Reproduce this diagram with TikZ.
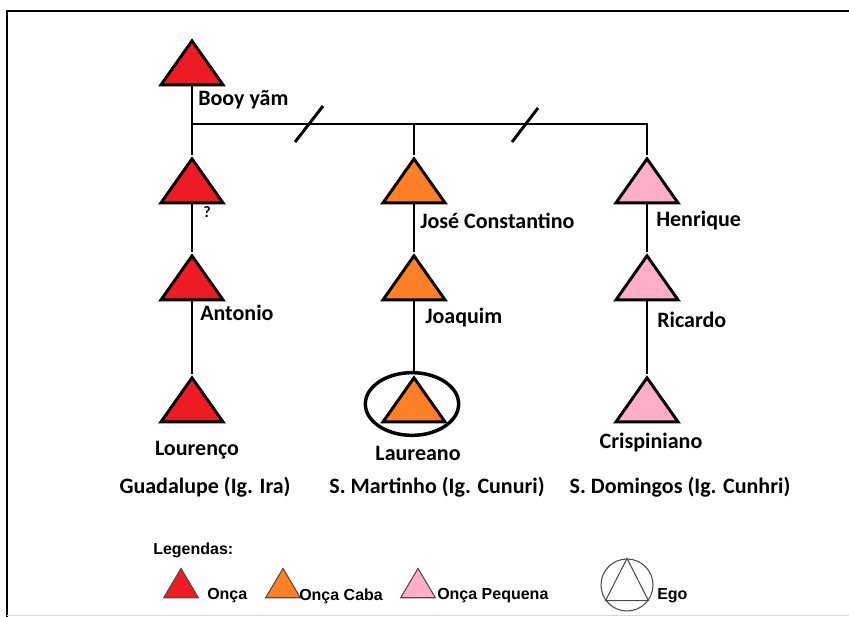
\documentclass[tikz,border=0pt]{standalone}
\usepackage{fontspec}
\setmainfont{Carlito}
\newfontfamily\legfont{Liberation Sans}
\usetikzlibrary{shapes.geometric,positioning}
\definecolor{onca}{HTML}{ED1C24}
\definecolor{caba}{HTML}{FF7F27}
\definecolor{pequena}{HTML}{FFAEC9}

\begin{document}
\begin{tikzpicture}[x=0.75pt,y=-0.75pt,
tri/.style={draw, line width=2.2pt, isosceles triangle, shape border rotate=90,
  isosceles triangle stretches, minimum width=46.5pt, minimum height=33pt, inner sep=0pt, anchor=apex},
ltri/.style={draw=black!70, line width=0.8pt, isosceles triangle, shape border rotate=90,
  isosceles triangle stretches, minimum width=26pt, minimum height=22pt, inner sep=0pt, anchor=apex},
nm/.style={font=\bfseries\fontsize{16.5}{18}\selectfont, inner sep=0pt},
lg/.style={font=\legfont\bfseries\fontsize{12}{14}\selectfont, inner sep=0pt, anchor=west},
ln/.style={line width=2.2pt}
]
\useasboundingbox (0,0) rectangle (849,617);
% frame
\draw[ln] (849,11) -- (7,11) -- (7,617);
\draw[black!15, line width=0.75pt] (7,615) -- (849,615);

% Onca line
\node[tri, fill=onca] (a0) at (192,37) {};
\node[tri, fill=onca] (a1) at (192,155) {};
\node[tri, fill=onca] (a2) at (192,252) {};
\node[tri, fill=onca] (a3) at (192,374) {};
% Onca Caba line
\node[tri, fill=caba] (b1) at (414,155) {};
\node[tri, fill=caba] (b2) at (414,252) {};
\node[tri, fill=caba] (b3) at (414,374) {};
\node[draw, ellipse, line width=2.6pt, minimum width=70pt, minimum height=47pt] (ego) at (412,404) {};
% Onca Pequena line
\node[tri, fill=pequena] (c1) at (647,155) {};
\node[tri, fill=pequena] (c2) at (647,252) {};
\node[tri, fill=pequena] (c3) at (647,374) {};

\coordinate (j1) at (192,124);
\coordinate (j2) at (414,124);
\coordinate (j3) at (647,124);
\draw[ln] (a0) -- (a1);
\draw[ln] (a1) -- (a2);
\draw[ln] (a2) -- (a3);
\draw[ln] (j1) -- (j3) -- (c1);
\draw[ln] (j2) -- (b1);
\draw[ln] (b1) -- (b2);
\draw[ln] (b2) -- (b3);
\draw[ln] (c1) -- (c2);
\draw[ln] (c2) -- (c3);
% separations
\draw[ln] (309,124) +(-14,18) -- +(14,-18);
\draw[ln] (525,125) +(-13,17) -- +(13,-17);

% names
\node[nm, anchor=west] (n0) at (198,100) {Booy yãm};
\node[nm, anchor=west, font=\bfseries\fontsize{12}{14}\selectfont] (n1) at (203,212) {?};
\node[nm, anchor=west] (n2) at (200,313) {Antonio};
\node[nm] (n3) at (197,450) {Lourenço};
\node[nm] (v1) at (205,487) {Guadalupe (Ig. Ira)};
\node[nm, anchor=west] (m1) at (420,221) {José Constantino};
\node[nm, anchor=west] (m2) at (425,318) {Joaquim};
\node[nm] (m3) at (418,453) {Laureano};
\node[nm] (v2) at (437,487) {S. Martinho (Ig. Cunuri)};
\node[nm, anchor=west] (p1) at (656,221) {Henrique};
\node[nm, anchor=west] (p2) at (657,320) {Ricardo};
\node[nm] (p3) at (651,443) {Crispiniano};
\node[nm] (v3) at (680,487) {S. Domingos (Ig. Cunhri)};

% legend
\node[lg] (leg) at (153,550) {Legendas:};
\node[ltri, fill=onca] (k1) at (181,567) {};
\node[lg] (t1) at (207,596) {Onça};
\node[ltri, fill=caba] (k2) at (283,567) {};
\node[lg] (t2) at (299,596) {Onça Caba};
\node[ltri, fill=pequena] (k3) at (418,567) {};
\node[lg] (t3) at (437,596) {Onça Pequena};
\node[draw=black!70, line width=0.8pt, circle, minimum size=39pt, inner sep=0pt] (k4) at (627,585) {};
\draw[black!70, line width=0.8pt] (k4.90) -- (k4.-36) -- (k4.-144) -- cycle;
\node[lg] (t4) at (657,596) {Ego};
\end{tikzpicture}
\end{document}
